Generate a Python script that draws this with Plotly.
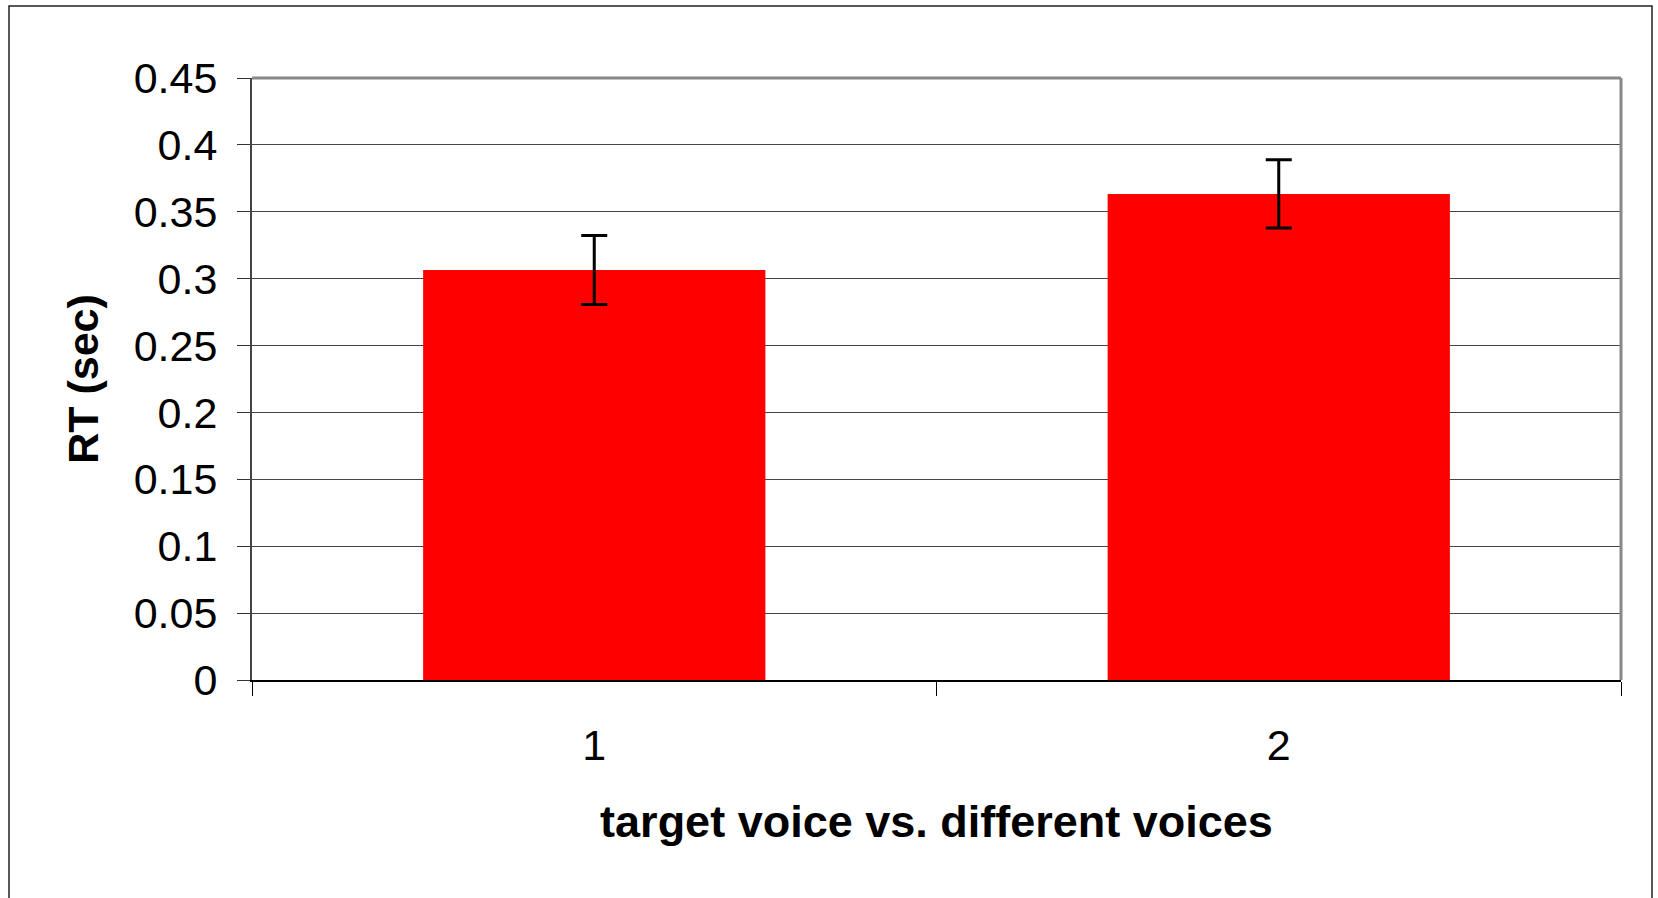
import plotly.graph_objects as go

categories = ["1", "2"]
rt_values = [0.3065, 0.3633]
rt_errors = [0.0258, 0.0255]
y_ticks = [0, 0.05, 0.1, 0.15, 0.2, 0.25, 0.3, 0.35, 0.4, 0.45]
y_tick_labels = ["0", "0.05", "0.1", "0.15", "0.2", "0.25", "0.3", "0.35", "0.4", "0.45"]

FONT = "Liberation Sans, Arial, sans-serif"
W, H = 1658, 898
L, R, T, B = 252, 37, 78, 218
pw, ph = W - L - R, H - T - B

def px(x):
    return (x - L) / pw

def py(y):
    return (H - B - y) / ph

fig = go.Figure()
fig.add_trace(go.Bar(
    x=categories, y=rt_values,
    marker=dict(color="#ff0000", line=dict(width=0)),
    width=0.5,
    error_y=dict(type="data", array=rt_errors, visible=True,
                 color="black", thickness=3, width=13),
))

fig.update_layout(
    width=W, height=H,
    margin=dict(l=L, r=R, t=T, b=B, pad=0),
    paper_bgcolor="white", plot_bgcolor="white",
    showlegend=False,
    font=dict(family=FONT, color="black", size=43),
    bargap=0.5,
    xaxis=dict(
        type="category",
        tickson="boundaries",
        ticks="outside", ticklen=14, tickwidth=1, tickcolor="black",
        showline=True, linecolor="black", linewidth=2,
        showgrid=False,
        tickfont=dict(size=43),
        ticklabelstandoff=26,
        title=dict(text="<b>target voice vs. different voices</b>",
                   font=dict(size=45), standoff=38),
    ),
    yaxis=dict(
        range=[0, 0.45],
        tickvals=y_ticks, ticktext=y_tick_labels,
        ticks="outside", ticklen=13, tickwidth=1, tickcolor="#333",
        showline=True, linecolor="#444", linewidth=2,
        showgrid=True, gridcolor="#444", gridwidth=1,
        zeroline=False,
        tickfont=dict(size=43),
        ticklabelstandoff=11,
        title=dict(text="<b>RT (sec)</b>", font=dict(size=43), standoff=22),
    ),
    shapes=[
        dict(type="line", xref="paper", yref="paper", x0=0, x1=1, y0=1, y1=1,
             line=dict(color="#888", width=3)),
        dict(type="line", xref="paper", yref="paper", x0=1, x1=1, y0=0, y1=1,
             line=dict(color="#888", width=3)),
        dict(type="rect", xref="paper", yref="paper",
             x0=px(9), x1=px(1652), y0=py(920), y1=py(6),
             line=dict(color="#222", width=1.5), layer="below"),
    ],
)

fig.write_html(
    "out.html",
    config={"displayModeBar": False},
    post_script="document.body.style.margin='0';document.body.style.overflow='hidden';",
)
